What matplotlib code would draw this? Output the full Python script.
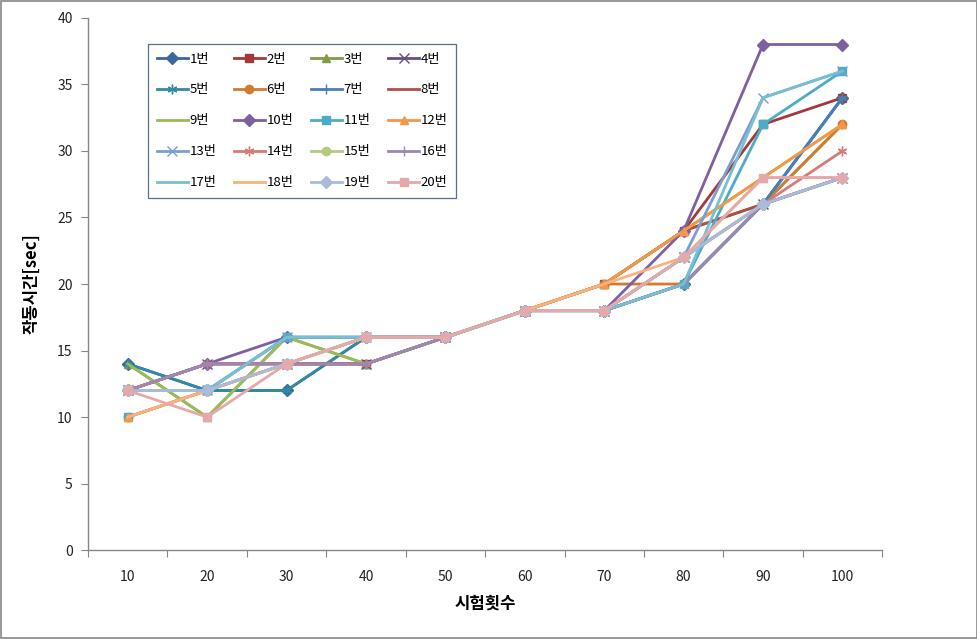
#!/usr/bin/env python3

import matplotlib

matplotlib.use("Agg")

import matplotlib.pyplot as plt
from matplotlib.patches import Rectangle
from matplotlib.ticker import FixedLocator, NullFormatter


plt.rcParams["font.family"] = [
    "Noto Sans CJK KR",
    "DejaVu Sans",
]

OUTPUT_PNG = "out.png"

TRIALS = [
    "10", "20", "30", "40", "50",
    "60", "70", "80", "90", "100",
]

S01 = [14, 12, 12, 16, 16, 18, 18, 20, 26, 34]
S02 = [12, 12, 14, 14, 16, 18, 20, 24, 32, 34]
S03 = [14, 10, 16, 14, 16, 18, 20, 24, 26, 32]
S04 = [12, 14, 14, 14, 16, 18, 18, 22, 26, 28]
S05 = [14, 12, 12, 16, 16, 18, 18, 20, 26, 34]
S06 = [10, 12, 14, 16, 16, 18, 20, 20, 26, 32]
S07 = [12, 12, 16, 16, 16, 18, 18, 20, 26, 34]
S08 = [12, 14, 14, 14, 16, 18, 20, 24, 26, 28]
S09 = [14, 10, 16, 14, 16, 18, 20, 24, 28, 32]
S10 = [12, 14, 16, 16, 16, 18, 18, 24, 38, 38]
S11 = [10, 12, 16, 16, 16, 18, 18, 20, 32, 36]
S12 = [10, 12, 14, 16, 16, 18, 20, 24, 28, 32]
S13 = [12, 12, 16, 16, 16, 18, 18, 22, 34, 36]
S14 = [12, 14, 14, 14, 16, 18, 18, 22, 26, 30]
S15 = [12, 12, 14, 16, 16, 18, 18, 22, 26, 28]
S16 = [12, 14, 14, 14, 16, 18, 18, 20, 26, 28]
S17 = [12, 12, 16, 16, 16, 18, 18, 20, 34, 36]
S18 = [10, 12, 14, 16, 16, 18, 20, 22, 28, 28]
S19 = [12, 12, 14, 16, 16, 18, 18, 22, 26, 28]
S20 = [12, 10, 14, 16, 16, 18, 18, 22, 28, 28]

SERIES = [
    S01, S02, S03, S04, S05,
    S06, S07, S08, S09, S10,
    S11, S12, S13, S14, S15,
    S16, S17, S18, S19, S20,
]

LABELS = [f"{number}번" for number in range(1, 21)]

COLORS = [
    "#3A679C", "#A13A3A", "#7F9C45", "#654D86", "#3489A2",
    "#D47A30", "#4A7EBB", "#B14C49", "#9BBB59", "#7D60A0",
    "#4BACC6", "#F79646", "#7C9ECF", "#D27B79", "#B2CB7E",
    "#9A88B6", "#78BFD3", "#F9B27E", "#A9BBDA", "#E4A9A8",
]

STAR = (6, 2, 0)

MARKERS = [
    "D", "s", "^", "x", STAR,
    "o", "+", None, None, "D",
    "s", "^", "x", STAR, "o",
    "+", None, None, "D", "s",
]

LEGEND_COLUMNS = 4


def create_plot() -> None:
    figure = plt.figure(
        figsize=(9.78, 6.39),
        dpi=100,
    )

    axis = figure.add_axes(
        [0.09, 0.139, 0.812, 0.833]
    )

    positions = list(range(len(TRIALS)))

    for values, label, color, marker in zip(
        SERIES,
        LABELS,
        COLORS,
        MARKERS,
    ):
        axis.plot(
            positions,
            values,
            color=color,
            linewidth=2.0,
            marker=marker,
            markersize=6 if marker not in ("x", "+", STAR) else 7,
            markeredgewidth=1.0,
            markerfacecolor=color,
            markeredgecolor=color,
            label=label,
        )

    axis.set_xlim(-0.5, len(TRIALS) - 0.5)
    axis.set_ylim(0, 40)

    # category ticks sit between the categories, labels in the middle
    axis.xaxis.set_major_locator(
        FixedLocator([p - 0.5 for p in range(len(TRIALS) + 1)])
    )
    axis.xaxis.set_major_formatter(NullFormatter())
    axis.xaxis.set_minor_locator(FixedLocator(positions))
    axis.set_xticklabels(TRIALS, minor=True, fontsize=10)
    axis.tick_params(
        axis="x",
        which="major",
        direction="out",
        length=5,
        color="#868686",
    )
    axis.tick_params(
        axis="x",
        which="minor",
        length=0,
        pad=14,
        labelcolor="#222222",
    )

    axis.set_yticks(range(0, 41, 5))
    axis.tick_params(
        axis="y",
        direction="out",
        length=5,
        color="#868686",
        labelsize=10,
        labelcolor="#222222",
        pad=6,
    )

    for side in ("top", "right"):
        axis.spines[side].set_visible(False)

    for side in ("left", "bottom"):
        axis.spines[side].set_color("#868686")
        axis.spines[side].set_linewidth(1.0)

    axis.set_xlabel(
        "시험횟수",
        fontsize=12,
        fontweight="bold",
        labelpad=8,
    )

    axis.set_ylabel(
        "작동시간[sec]",
        fontsize=12,
        fontweight="bold",
        labelpad=12,
    )

    # legend fills column by column, so reorder to read row by row
    handles, labels = axis.get_legend_handles_labels()
    rows = len(handles) // LEGEND_COLUMNS
    order = [
        row * LEGEND_COLUMNS + column
        for column in range(LEGEND_COLUMNS)
        for row in range(rows)
    ]

    legend = axis.legend(
        [handles[i] for i in order],
        [labels[i] for i in order],
        loc="upper left",
        bbox_to_anchor=(0.0756, 0.951),
        borderaxespad=0,
        ncol=LEGEND_COLUMNS,
        fontsize=9.5,
        frameon=True,
        fancybox=False,
        handlelength=2.4,
        handletextpad=0.1,
        columnspacing=1.3,
        labelspacing=1.36,
        borderpad=0.65,
    )
    legend.get_frame().set_edgecolor("#2F4B6E")
    legend.get_frame().set_linewidth(0.9)

    figure.patches.append(
        Rectangle(
            (0.001, 0.001),
            0.998,
            0.998,
            transform=figure.transFigure,
            fill=False,
            edgecolor="#868686",
            linewidth=1.2,
        )
    )

    figure.savefig(OUTPUT_PNG, dpi=100)
    plt.close(figure)


if __name__ == "__main__":
    create_plot()
